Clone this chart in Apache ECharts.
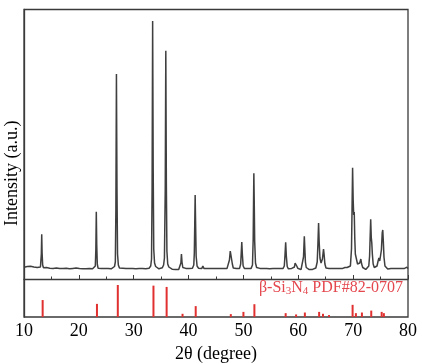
<!DOCTYPE html>
<html>
<head>
<meta charset="utf-8">
<script src="https://cdn.jsdelivr.net/npm/echarts/dist/echarts.min.js"></script>
<style>html,body{margin:0;padding:0;background:#fff;}#c{width:422px;height:364px;}</style>
</head>
<body>
<div id="c"></div>
<script>
// Measured XRD pattern: [2theta, intensity (a.u.)]
var pattern = [
[10.0,118],[10.3,106],[10.6,124],[10.9,110],[11.2,127],[11.5,108],[11.8,120],[12.1,104],[12.4,116],[12.7,106],[13.0,120],
[13.08,135],[13.16,250],[13.23,447],[13.30,260],[13.40,140],[13.55,112],
[13.8,98],[14.1,114],[14.4,94],[14.7,108],[15.0,92],[15.3,106],[15.6,96],[15.9,110],[16.2,93],[16.5,105],[16.8,90],[17.1,106],[17.4,94],[17.7,108],[18.0,92],[18.3,102],[18.6,90],[18.9,106],[19.2,94],[19.5,110],[19.8,93],[20.1,104],[20.4,90],[20.7,102],[21.0,88],[21.3,102],[21.6,90],[21.9,105],[22.2,92],[22.5,102],[22.8,104],
[23.0,130],[23.1,300],[23.18,673],[23.26,340],[23.36,150],[23.5,108],
[23.8,94],[24.1,106],[24.4,92],[24.7,104],[25.0,90],[25.3,106],[25.6,94],[25.9,102],[26.2,108],[26.5,125],
[26.65,170],[26.75,700],[26.85,2050],[26.95,900],[27.05,250],[27.2,140],[27.4,110],
[27.7,98],[28.0,108],[28.3,94],[28.6,106],[28.9,92],[29.2,104],[29.5,94],[29.8,106],[30.1,92],[30.4,102],[30.7,90],[31.0,104],[31.3,94],[31.6,106],[31.9,92],[32.2,102],[32.5,94],[32.8,108],[33.1,130],
[33.25,200],[33.35,900],[33.45,2580],[33.55,1100],[33.65,300],[33.8,160],[34.0,125],
[34.3,110],[34.6,102],[34.9,110],[35.2,112],[35.45,140],
[35.6,210],[35.75,900],[35.85,2283],[35.95,950],[36.05,280],[36.2,150],[36.4,120],
[36.7,104],[37.0,98],[37.3,106],[37.6,94],[37.9,104],[38.2,96],[38.45,110],
[38.6,160],[38.7,250],[38.8,170],[38.95,115],
[39.2,98],[39.5,106],[39.8,94],[40.1,104],[40.4,96],[40.7,108],[40.95,140],
[41.05,260],[41.13,560],[41.2,840],[41.28,560],[41.38,230],[41.55,130],
[41.8,108],[42.1,98],[42.4,104],[42.6,130],[42.8,106],[43.1,96],[43.4,106],[43.7,92],[44.0,104],[44.3,94],[44.6,106],[44.9,92],[45.2,104],[45.5,94],[45.8,106],[46.1,92],[46.4,104],[46.7,96],[47.0,104],[47.3,120],
[47.45,190],[47.6,280],[47.72,240],[47.85,220],[47.98,150],[48.15,110],
[48.4,98],[48.7,106],[49.0,94],[49.3,106],[49.5,150],
[49.6,260],[49.7,370],[49.8,250],[49.95,130],
[50.2,104],[50.5,94],[50.8,106],[51.1,96],[51.4,106],[51.65,140],
[51.78,400],[51.85,800],[51.9,1057],[51.97,780],[52.05,380],[52.2,160],[52.4,115],
[52.7,98],[53.0,106],[53.3,92],[53.6,104],[53.9,94],[54.2,106],[54.5,92],[54.8,102],[55.1,94],[55.4,106],[55.7,92],[56.0,104],[56.3,94],[56.6,106],[56.9,94],[57.2,104],[57.45,130],
[57.58,240],[57.7,367],[57.82,230],[57.98,125],
[58.2,102],[58.5,94],[58.8,106],[59.1,100],[59.3,120],
[59.42,160],[59.5,180],[59.6,165],[59.72,130],[59.9,108],
[60.2,102],[60.5,94],[60.8,110],
[60.95,220],[61.03,330],[61.1,427],[61.18,320],[61.3,170],[61.45,115],
[61.7,104],[62.0,94],[62.3,106],[62.6,96],[62.9,104],[63.2,110],[63.45,170],
[63.58,350],[63.7,560],[63.8,380],[63.95,210],[64.15,160],[64.4,200],
[64.52,260],[64.6,300],[64.7,250],[64.85,150],[65.05,110],
[65.3,98],[65.6,106],[65.9,94],[66.2,106],[66.5,94],[66.8,104],[67.1,92],[67.4,106],[67.7,96],[68.0,104],[68.3,100],[68.5,115],[68.7,128],[68.9,115],[69.2,108],[69.5,130],
[69.7,300],[69.8,700],[69.9,1113],[70.0,800],[70.1,640],[70.2,670],[70.3,400],[70.4,250],[70.5,240],[70.6,200],[70.8,150],[71.0,130],[71.2,160],[71.4,200],[71.55,150],[71.75,115],
[72.0,104],[72.3,96],[72.6,104],[72.85,130],
[73.0,230],[73.1,420],[73.2,597],[73.3,420],[73.4,360],[73.5,250],[73.65,150],[73.85,115],
[74.1,104],[74.35,130],[74.55,180],[74.7,210],[74.85,180],[75.0,190],[75.15,290],[75.3,460],[75.4,490],[75.5,380],[75.62,220],[75.8,130],[76.0,110],
[76.3,100],[76.6,94],[76.9,106],[77.2,92],[77.5,104],[77.8,94],[78.1,106],[78.4,92],[78.7,104],[79.0,94],[79.3,104],[79.6,108],[79.8,118],[80.0,104]
];

// Reference card beta-Si3N4 PDF#82-0707
var refAngles = [13.4, 23.3, 27.1, 33.6, 36.0, 38.9, 41.3, 47.7, 50.0, 52.0, 57.7, 59.6, 61.2, 63.8, 64.5, 65.6, 69.9, 70.5, 71.6, 73.3, 75.2, 75.6];
var refIntensity = [53, 41, 100, 98, 94, 10, 34, 9, 16, 40, 12, 8, 14, 16, 10, 6, 38, 12, 14, 20, 16, 12];

var xTicks = [10, 20, 30, 40, 50, 60, 70, 80];

var refData = refAngles.map(function (a, i) { return [a, refIntensity[i]]; });

var font = "'Liberation Serif', 'Times New Roman', serif";
var chart = echarts.init(document.getElementById('c'), null, {renderer: 'canvas'});
chart.setOption({
  animation: false,
  backgroundColor: '#ffffff',
  title: {
    text: '{n|β-Si}{s|3}{n|N}{s|4}{n| PDF#82-0707}',
    right: 19,
    top: 280,
    padding: 0,
    textStyle: {
      fontWeight: 'normal',
      rich: {
        n: {fontFamily: font, fontSize: 16, fontWeight: 'normal', color: '#e4474e', lineHeight: 16},
        s: {fontFamily: font, fontSize: 11, fontWeight: 'normal', color: '#e4474e', padding: [7, 0, 0, 0], lineHeight: 16}
      }
    }
  },
  grid: {
    left: 24, right: 14, top: 9.5, bottom: 47,
    outerBoundsMode: 'none',
    containLabel: false,
    show: true, borderColor: '#3a3a3a', borderWidth: 1.3, backgroundColor: 'transparent'
  },
  xAxis: {
    type: 'value',
    min: xTicks[0], max: xTicks[xTicks.length - 1], interval: 10,
    name: '2θ (degree)',
    nameLocation: 'middle',
    nameGap: 21,
    nameTextStyle: {fontFamily: font, fontSize: 18, color: '#000'},
    axisLine: {show: true, lineStyle: {color: '#3a3a3a', width: 1.3}},
    axisTick: {show: true, inside: true, length: 4, lineStyle: {color: '#3a3a3a', width: 1}},
    minorTick: {show: true, splitNumber: 2, length: 2.5, lineStyle: {color: '#3a3a3a', width: 1}},
    axisLabel: {fontFamily: font, fontSize: 18, color: '#000', margin: 5},
    splitLine: {show: false}
  },
  yAxis: [{
    type: 'value',
    min: -380, max: 2695,
    name: 'Intensity (a.u.)',
    nameLocation: 'middle',
    nameGap: 3,
    nameTextStyle: {fontFamily: font, fontSize: 18, color: '#000', padding: [0, 20, 0, 0]},
    axisLine: {show: true, lineStyle: {color: '#3a3a3a', width: 1.3}},
    axisTick: {show: false},
    axisLabel: {show: false},
    splitLine: {show: false}
  }, {
    type: 'value',
    min: 0, max: 961,
    show: false,
    splitLine: {show: false}
  }],
  series: [{
    type: 'line',
    data: pattern,
    xAxisIndex: 0, yAxisIndex: 0,
    showSymbol: false,
    symbol: 'none',
    lineStyle: {color: '#3f3f3f', width: 1.5},
    silent: true
  }, {
    type: 'bar',
    data: refData,
    xAxisIndex: 0, yAxisIndex: 1,
    barWidth: 2,
    itemStyle: {color: '#e03030'},
    silent: true
  }]
});
</script>
</body>
</html>
